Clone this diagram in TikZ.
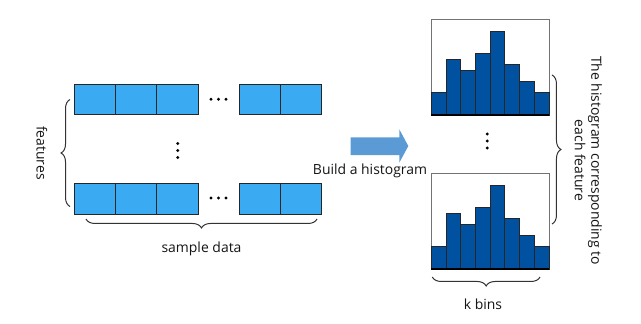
\documentclass[tikz,border=0pt]{standalone}
\usepackage{fontspec}
\setmainfont{Open Sans}
\usetikzlibrary{decorations.pathreplacing}
\definecolor{cellblue}{RGB}{58,170,243}
\definecolor{barblue}{RGB}{0,82,160}
\definecolor{arrowblue}{RGB}{91,155,213}
\definecolor{txt}{RGB}{20,20,20}
\tikzset{
  cell/.style={draw=black!85, line width=1pt, fill=cellblue},
  bar/.style={draw=black!85, line width=0.8pt, fill=barblue},
  histbox/.style={draw=black!55, line width=0.7pt},
  bracelook/.style={draw=black!80, line width=1pt, decorate, decoration={brace, amplitude=9pt}},
  lbl/.style={font=\fontsize{14}{16.7}\selectfont, text=txt, inner sep=0pt},
  dotc/.style={circle, fill=black, inner sep=0pt, minimum size=3.2pt}
}
\begin{document}
\begin{tikzpicture}[x=1bp,y=-1bp]
\useasboundingbox (0,0) rectangle (641,323);
% rows of cells
\foreach \ya/\yb in {84/114.7, 183.5/214}{
  \draw[cell] (74,\ya) rectangle (115.7,\yb);
  \draw[cell] (115.7,\ya) rectangle (156.8,\yb);
  \draw[cell] (156.8,\ya) rectangle (198,\yb);
  \draw[cell] (239.5,\ya) rectangle (280.5,\yb);
  \draw[cell] (280.5,\ya) rectangle (321.8,\yb);
}
% horizontal dots
\foreach \y in {99.3,198}{
  \foreach \x in {211,218.5,226}{\node[dotc] at (\x,\y) {};}
}
% vertical dots
\foreach \y in {143.5,150.5,157.5}{\node[dotc] at (177.7,\y) {};}
% features brace
\coordinate (fb1) at (70,206.5);
\coordinate (fb2) at (70,99.5);
\draw[bracelook] (fb1) -- (fb2);
\node[lbl, rotate=-90] (feat) at (42,153) {features};
% sample data brace
\coordinate (sb1) at (317,219);
\coordinate (sb2) at (86,219);
\draw[bracelook] (sb1) -- (sb2);
\node[lbl] (sd) at (201.5,248.5) {sample data};
% arrow
\fill[arrowblue] (350.7,137.3) -- (399.3,137.3) -- (399.3,129.3) -- (408.3,146) -- (399.3,162.7) -- (399.3,155) -- (350.7,155) -- cycle;
\node[lbl] (build) at (370,170.5) {Build a histogram};
% histograms
\foreach \o in {0,154}{
  \draw[histbox] (431.3,19.3+\o) rectangle (549,115+\o);
  \foreach \i/\t in {0/92.3,1/59,2/70.3,3/53.3,4/31,5/64.3,6/81,7/92.3}{
    \draw[bar] (431.3+14.71*\i,\t+\o) rectangle (431.3+14.71*\i+14.71,115+\o);
  }
  \draw[black, line width=1.4pt] (431.3,115+\o) -- (549,115+\o);
}
\foreach \y in {134,141,148}{\node[dotc] at (487.3,\y) {};}
% right brace
\coordinate (rb1) at (552,75);
\coordinate (rb2) at (552,224);
\draw[bracelook] (rb1) -- (rb2);
\node[lbl, rotate=-90, align=center] (hcap) at (588.3,160.5) {The histogram corresponding to\\each feature};
% k bins brace
\coordinate (kb1) at (540,277);
\coordinate (kb2) at (432.3,277);
\draw[bracelook] (kb1) -- (kb2);
\node[lbl] (kb) at (483,304) {k bins};
\end{tikzpicture}
\end{document}
